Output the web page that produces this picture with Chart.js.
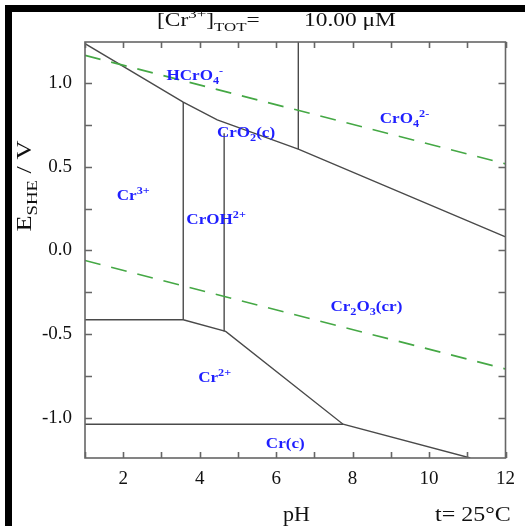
<!DOCTYPE html>
<html>
<head>
<meta charset="utf-8">
<script src="https://cdn.jsdelivr.net/npm/chart.js@4.4.0/dist/chart.umd.min.js"></script>
<style>
  html, body { margin: 0; padding: 0; background: #fff; }
  #wrap { width: 525px; height: 526px; }
</style>
</head>
<body>
<div id="wrap"><canvas id="pourbaix" width="525" height="526"></canvas></div>
<script>
// boundaries, pH vs E (V vs SHE)
const upperPH = [1, 3.57, 4.46, 6.58, 12];
const upperE = [1.235, 0.886, 0.78, 0.605, 0.081];
const cr6SplitPH = [6.58, 6.58];
const cr6SplitE = [1.245, 0.605];
const cr3SplitPH = [3.57, 3.57];
const cr3SplitE = [0.886, -0.414];
const crohSplitPH = [4.64, 4.64];
const crohSplitE = [0.70, -0.484];
const cr2TopPH = [1, 3.57, 4.68, 7.75, 11.08];
const cr2TopE = [-0.414, -0.414, -0.484, -1.038, -1.24];
const crMetalPH = [1, 7.75];
const crMetalE = [-1.038, -1.038];
// water stability limits (dashed)
const o2PH = [1, 12];
const o2E = [1.165, 0.517];
const h2PH = [1, 12];
const h2E = [-0.06, -0.708];

const xTickValues = [1, 2, 3, 4, 5, 6, 7, 8, 9, 10, 11, 12];
const yTickValues = [-1, -0.75, -0.5, -0.25, 0, 0.25, 0.5, 0.75, 1];

// species names: plain text, {sub}, {sup}
const speciesNames = [
  ['HCrO', {sub: '4'}, {sup: '-'}],
  ['CrO', {sub: '4'}, {sup: '2-'}],
  ['CrO', {sub: '2'}, '(c)'],
  ['Cr', {sup: '3+'}],
  ['CrOH', {sup: '2+'}],
  ['Cr', {sub: '2'}, 'O', {sub: '3'}, '(cr)'],
  ['Cr', {sup: '2+'}],
  ['Cr(c)']
];
const speciesPH = [3.13, 8.71, 4.45, 1.83, 3.65, 7.42, 3.96, 5.73];
const speciesE = [1.05, 0.792, 0.708, 0.331, 0.187, -0.33, -0.755, -1.15];

const SERIF = '"Liberation Serif", "DejaVu Serif", serif';

function toPoints(xs, ys) {
  return xs.map((x, i) => ({ x: x, y: ys[i] }));
}

function lineSet(xs, ys, color, width, dash) {
  return {
    data: toPoints(xs, ys),
    showLine: true,
    pointRadius: 0,
    borderColor: color,
    borderWidth: width,
    borderDash: dash || [],
    tension: 0,
    fill: false
  };
}

// draws text with sub/superscripts; sx stretches along the text direction
function drawRich(ctx, parts, x, y, size, o) {
  o = o || {};
  const weight = o.bold ? 'bold ' : '';
  const small = Math.round(size * 0.72);
  const pieces = parts.map(p => {
    if (typeof p === 'string') return { t: p, s: size, dy: 0 };
    if (p.sub) return { t: p.sub, s: small, dy: size * 0.28 };
    return { t: p.sup, s: small, dy: -size * 0.42 };
  });
  let total = 0;
  pieces.forEach(p => {
    ctx.font = weight + p.s + 'px ' + SERIF;
    p.w = ctx.measureText(p.t).width;
    total += p.w;
  });
  ctx.save();
  ctx.translate(x, y);
  if (o.rotate) ctx.rotate(o.rotate);
  ctx.scale(o.sx || 1, 1);
  ctx.fillStyle = o.color || '#111';
  ctx.textBaseline = 'alphabetic';
  ctx.textAlign = 'left';
  let cx = o.center ? -total / 2 : 0;
  pieces.forEach(p => {
    ctx.font = weight + p.s + 'px ' + SERIF;
    ctx.fillText(p.t, cx, p.dy);
    cx += p.w;
  });
  ctx.restore();
}

const framePlugin = {
  id: 'frame',
  beforeDraw(chart) {
    const c = chart.ctx;
    c.save();
    c.fillStyle = '#fff';
    c.fillRect(0, 0, chart.width, chart.height);
    // heavy outer border (runs off the right and bottom)
    c.fillStyle = '#000';
    c.fillRect(5, 5, chart.width, 7);
    c.fillRect(5, 5, 7, chart.height);
    c.restore();
  },
  afterDatasetsDraw(chart) {
    const c = chart.ctx;
    const a = chart.chartArea;
    const xs = chart.scales.x;
    const ys = chart.scales.y;
    c.save();
    c.strokeStyle = '#666';
    c.lineWidth = 1.6;
    c.strokeRect(a.left, a.top, a.right - a.left, a.bottom - a.top);
    c.beginPath();
    xTickValues.forEach(v => {
      const px = Math.round(xs.getPixelForValue(v)) + 0.5;
      c.moveTo(px, a.bottom); c.lineTo(px, a.bottom - 6);
      c.moveTo(px, a.top); c.lineTo(px, a.top + 6);
    });
    yTickValues.forEach(v => {
      const py = Math.round(ys.getPixelForValue(v)) + 0.5;
      c.moveTo(a.left, py); c.lineTo(a.left + 7, py);
      c.moveTo(a.right, py); c.lineTo(a.right - 7, py);
    });
    c.stroke();
    c.restore();

    speciesNames.forEach((parts, i) => {
      const px = xs.getPixelForValue(speciesPH[i]);
      const py = ys.getPixelForValue(speciesE[i]) + 5;
      drawRich(c, parts, px, py, 14, { bold: true, sx: 1.22, color: '#1f1fff' });
    });
  },
  afterDraw(chart) {
    const c = chart.ctx;
    drawRich(c, ['[Cr', {sup: '3+'}, ']', {sub: 'TOT'}, '='], 157, 26, 18, { sx: 1.3 });
    drawRich(c, ['10.00 \u03bcM'], 304, 26, 18, { sx: 1.3 });
    drawRich(c, ['E', {sub: 'SHE'}, ' / V'], 31, 186, 21, { rotate: -Math.PI / 2, center: true, sx: 1.25 });
    drawRich(c, ['pH'], 283, 521, 20, { sx: 1.1 });
    drawRich(c, ['t= 25\u00b0C'], 435, 521, 20, { sx: 1.2 });
  }
};

const ctx = document.getElementById('pourbaix').getContext('2d');
const boundary = '#4a4a4a';
const water = '#45a845';

new Chart(ctx, {
  type: 'scatter',
  data: {
    datasets: [
      lineSet(o2PH, o2E, water, 1.6, [16, 11]),
      lineSet(h2PH, h2E, water, 1.6, [16, 11]),
      lineSet(upperPH, upperE, boundary, 1.4),
      lineSet(cr6SplitPH, cr6SplitE, boundary, 1.4),
      lineSet(cr3SplitPH, cr3SplitE, boundary, 1.4),
      lineSet(crohSplitPH, crohSplitE, boundary, 1.4),
      lineSet(cr2TopPH, cr2TopE, boundary, 1.4),
      lineSet(crMetalPH, crMetalE, boundary, 1.4)
    ]
  },
  options: {
    responsive: false,
    animation: false,
    events: [],
    layout: { padding: { top: 42, right: 16, left: 0, bottom: 0 } },
    plugins: { legend: { display: false }, tooltip: { enabled: false } },
    scales: {
      x: {
        type: 'linear', min: 1, max: 12,
        afterFit: s => { s.height = 68; },
        afterBuildTicks: s => { s.ticks = xTickValues.map(v => ({ value: v })); },
        ticks: {
          callback: v => (v % 2 === 0 ? String(v) : ''),
          font: { family: SERIF, size: 19 }, color: '#111',
          padding: 10, maxRotation: 0, autoSkip: false
        },
        grid: { display: false, drawTicks: false },
        border: { display: false }
      },
      y: {
        type: 'linear', min: -1.24, max: 1.245,
        afterFit: s => { s.width = 85; },
        afterBuildTicks: s => { s.ticks = yTickValues.map(v => ({ value: v })); },
        ticks: {
          callback: v => (Math.abs(v * 2 - Math.round(v * 2)) < 1e-6 ? v.toFixed(1) : ''),
          font: { family: SERIF, size: 19 }, color: '#111',
          padding: 13, autoSkip: false
        },
        grid: { display: false, drawTicks: false },
        border: { display: false }
      }
    }
  },
  plugins: [framePlugin]
});
</script>
</body>
</html>
